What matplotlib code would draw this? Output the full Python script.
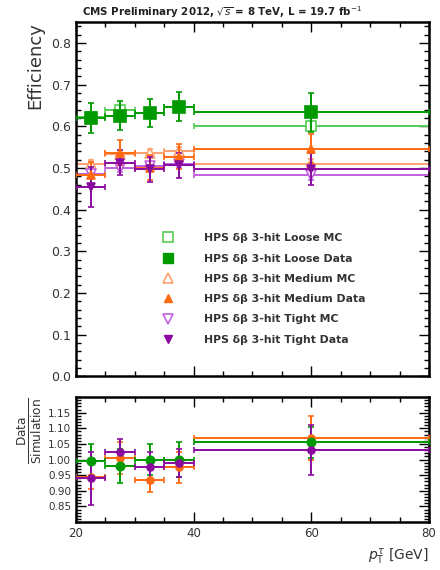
import matplotlib
matplotlib.use("Agg")
import matplotlib.pyplot as plt
from matplotlib.ticker import MultipleLocator
from matplotlib.lines import Line2D
import numpy as np

# ---- data ----
bin_lo = [20, 25, 30, 35, 40]
bin_hi = [25, 30, 35, 40, 80]
x_pts = [22.5, 27.5, 32.5, 37.5, 60]

loose_mc = [0.623, 0.638, 0.632, 0.647, 0.600]
loose_mc_err = [0.010, 0.010, 0.010, 0.010, 0.012]
loose_data = [0.620, 0.625, 0.632, 0.647, 0.633]
loose_data_err = [0.035, 0.035, 0.033, 0.035, 0.047]

medium_mc = [0.510, 0.533, 0.535, 0.540, 0.510]
medium_mc_err = [0.010, 0.010, 0.010, 0.010, 0.012]
medium_data = [0.484, 0.536, 0.500, 0.527, 0.546]
medium_data_err = [0.030, 0.030, 0.030, 0.030, 0.035]

tight_mc = [0.485, 0.500, 0.505, 0.510, 0.483]
tight_mc_err = [0.010, 0.010, 0.010, 0.010, 0.012]
tight_data = [0.455, 0.513, 0.497, 0.507, 0.498]
tight_data_err = [0.048, 0.030, 0.030, 0.030, 0.038]

loose_ratio = [0.995, 0.980, 1.000, 1.000, 1.055]
loose_ratio_err = [0.055, 0.055, 0.050, 0.055, 0.050]
medium_ratio = [0.945, 1.005, 0.935, 0.975, 1.070]
medium_ratio_err = [0.040, 0.050, 0.040, 0.050, 0.070]
tight_ratio = [0.940, 1.025, 0.975, 0.990, 1.030]
tight_ratio_err = [0.085, 0.040, 0.050, 0.045, 0.080]

labels = ["HPS δβ 3-hit Loose MC", "HPS δβ 3-hit Loose Data",
          "HPS δβ 3-hit Medium MC", "HPS δβ 3-hit Medium Data",
          "HPS δβ 3-hit Tight MC", "HPS δβ 3-hit Tight Data"]

green_d, green_mc = "#009a00", "#55cc55"
orange_d, orange_mc = "#ff6a10", "#ffa070"
purple_d, purple_mc = "#8a0aa0", "#c060e0"

x = np.array(x_pts)
xl = x - np.array(bin_lo)
xh = np.array(bin_hi) - x

fig = plt.figure(figsize=(4.4, 5.7), dpi=100)
ax = fig.add_axes([0.1727, 0.3395, 0.8023, 0.6219])
axr = fig.add_axes([0.1727, 0.0842, 0.8023, 0.2193])

def eb(a, y, ye, color, marker, mfc, ms, lw=1.4, z=3):
    a.errorbar(x, y, yerr=ye, xerr=[xl, xh], fmt=marker, color=color, mfc=mfc,
               mec=color, ms=ms, lw=lw, capsize=2, capthick=1.0, mew=1.2, zorder=z)

# top panel: MC first then data
eb(ax, loose_mc, loose_mc_err, green_mc, "s", "white", 7, z=2)
eb(ax, medium_mc, medium_mc_err, orange_mc, "^", "white", 7, z=2)
eb(ax, tight_mc, tight_mc_err, purple_mc, "v", "white", 7, z=2)
eb(ax, loose_data, loose_data_err, green_d, "s", green_d, 8)
eb(ax, medium_data, medium_data_err, orange_d, "^", orange_d, 6)
eb(ax, tight_data, tight_data_err, purple_d, "v", purple_d, 6)

# ratio panel
eb(axr, medium_ratio, medium_ratio_err, orange_d, "o", orange_d, 5)
eb(axr, loose_ratio, loose_ratio_err, green_d, "o", green_d, 6)
eb(axr, tight_ratio, tight_ratio_err, purple_d, "o", purple_d, 5)

for a in (ax, axr):
    a.set_xlim(20, 80)
    a.xaxis.set_major_locator(MultipleLocator(20))
    a.xaxis.set_minor_locator(MultipleLocator(5))
    a.tick_params(which="both", direction="in", top=True, right=True,
                  labelsize=8, labelcolor="#333333", width=1.0)
    a.tick_params(which="major", length=7)
    a.tick_params(which="minor", length=3.5)
    for s in a.spines.values():
        s.set_linewidth(1.8)

ax.set_ylim(0, 0.85)
ax.yaxis.set_minor_locator(MultipleLocator(0.02))
ax.set_yticks(np.arange(0, 0.81, 0.1))
ax.set_yticklabels([f"{v:.1f}" for v in np.arange(0, 0.81, 0.1)])
ax.tick_params(labelbottom=False, labelsize=9)

axr.set_ylim(0.8, 1.2)
axr.set_yticks(np.arange(0.85, 1.151, 0.05))
axr.set_yticklabels([f"{v:.2f}" for v in np.arange(0.85, 1.151, 0.05)])
axr.yaxis.set_minor_locator(MultipleLocator(0.01))
axr.tick_params(axis="y", labelsize=7.5)
axr.tick_params(axis="x", labelsize=8.5)

ax.set_ylabel("Efficiency", fontsize=13, color="#333333", loc="top", labelpad=5)
axr.set_ylabel(r"$\frac{\mathrm{Data}}{\mathrm{Simulation}}$", fontsize=12.5,
               color="#333333", loc="top", labelpad=3)
axr.set_xlabel(r"$p_{\mathrm{T}}^{\tau}$ [GeV]", fontsize=10, color="#333333",
               loc="right", labelpad=5)

fig.text(0.505, 0.978, r"CMS Preliminary 2012, $\sqrt{s}$ = 8 TeV, L = 19.7 fb$^{-1}$",
         ha="center", va="center", fontsize=7.4, fontweight="bold", color="#222222")

handles = [
    Line2D([], [], ls="none", marker="s", ms=7, mfc="white", mec=green_mc, mew=1.2),
    Line2D([], [], ls="none", marker="s", ms=7, mfc=green_d, mec=green_d),
    Line2D([], [], ls="none", marker="^", ms=7, mfc="white", mec=orange_mc, mew=1.2),
    Line2D([], [], ls="none", marker="^", ms=6, mfc=orange_d, mec=orange_d),
    Line2D([], [], ls="none", marker="v", ms=7, mfc="white", mec=purple_mc, mew=1.2),
    Line2D([], [], ls="none", marker="v", ms=6, mfc=purple_d, mec=purple_d),
]
leg = ax.legend(handles, labels, loc="upper left", bbox_to_anchor=(0.237, 0.404),
                frameon=False, fontsize=7.8, labelspacing=0.95, handlelength=1.6,
                handletextpad=2.5, borderaxespad=0, borderpad=0)
for t in leg.get_texts():
    t.set_fontweight("bold")
    t.set_color("#333333")

fig.savefig("out.png", dpi=100)
